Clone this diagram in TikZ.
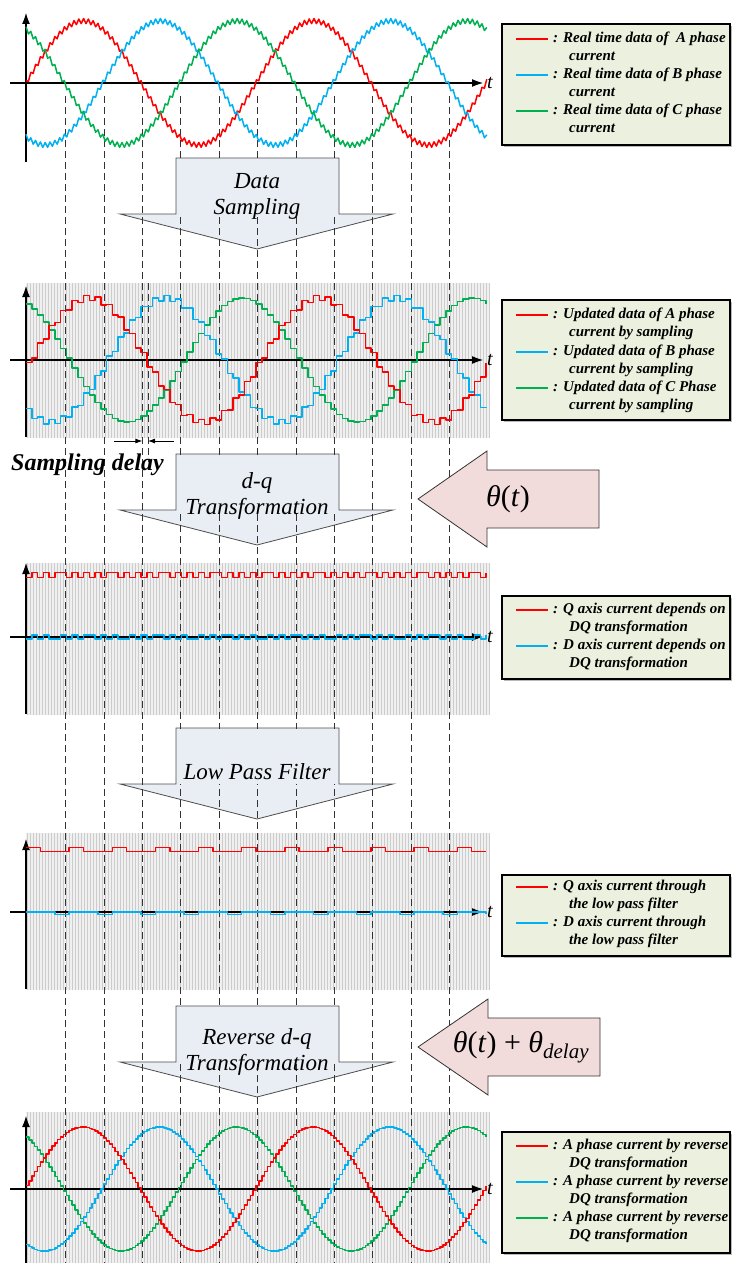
\documentclass[tikz,border=0pt]{standalone}
\usepackage{fontspec}
\setmainfont{Liberation Serif}
\usetikzlibrary{arrows.meta}
\definecolor{phA}{RGB}{255,0,0}
\definecolor{phB}{RGB}{0,176,240}
\definecolor{phC}{RGB}{0,176,80}
\definecolor{legbg}{RGB}{235,241,222}
\definecolor{blkbg}{RGB}{233,237,244}
\definecolor{pinkbg}{RGB}{242,220,219}
\tikzset{
  wave/.style={line width=1.5pt, line join=round},
  axis/.style={line width=2.2pt, -{Latex[length=12pt,width=8pt]}},
  guide/.style={gray!40!black, line width=0.9pt, dash pattern=on 7pt off 4pt},
  dotgrid/.style={gray!40, line width=0.4pt},
  legbox/.style={draw=black, line width=1.2pt, fill=legbg},
  legtext/.style={anchor=west, inner sep=0pt, font=\bfseries\itshape\fontsize{15}{18}\selectfont},
  blockarrow/.style={draw=gray!60!black, line width=0.8pt, fill=blkbg},
  thetaarrow/.style={draw=gray!40!black, line width=0.8pt, fill=pinkbg},
  steptext/.style={font=\itshape\fontsize{23}{26}\selectfont, align=center, inner sep=0pt},
}
\begin{document}
\begin{tikzpicture}[x=1pt, y=-1pt]
    \useasboundingbox (0,0) rectangle (732,1263);
    % grid backgrounds
    \foreach \ya/\yb in {283/438, 563/715, 833/990, 1112/1263} {
        \fill[gray!12] (26,\ya) rectangle (489,\yb);
        \draw[dotgrid, step=3] (26,\ya) grid (489,\yb);
    }
    % block arrows (down)
    \foreach \top/\wing/\tip in {158/214/249, 454/510/545, 728/784/819, 1006/1062/1097} {
        \draw[blockarrow] (176,\top) -- (339,\top) -- (339,\wing) -- (393,\wing)
            -- (257,\tip) -- (120,\wing) -- (176,\wing) -- cycle;
    }
    % dashed guides
    \foreach \k in {1,...,11} {
        \draw[guide] ({27.2+38.4*\k},96) -- ({27.2+38.4*\k},1263);
    }
    \draw[guide] (148,283) -- (148,462);
    \foreach \top/\wing in {158/214, 454/510, 728/784, 1006/1062} {
        \fill[blkbg] (176.8,{\top+0.8}) rectangle (338.2,\wing);
    }
    \node[steptext] (samp) at (257,196) {Data\\Sampling};
    \node[steptext] (dq) at (257,496) {d-q\\Transformation};
    \node[steptext] (lpf) at (257,772) {Low Pass Filter};
    \node[steptext] (rdq) at (257,1052) {Reverse d-q\\Transformation};
    % theta arrows (left)
    \draw[thetaarrow] (418,499) -- (487,451) -- (487,470) -- (599,470) -- (599,528)
        -- (487,528) -- (487,547) -- cycle;
    \node[font=\fontsize{30}{30}\selectfont] (th) at (508,499) {\textit{θ}(\textit{t})};
    \draw[thetaarrow] (418,1047) -- (488,999) -- (488,1018) -- (600,1018) -- (600,1076)
        -- (488,1076) -- (488,1095) -- cycle;
    \node[font=\fontsize{30}{30}\selectfont] (thd) at (521,1047)
        {\textit{θ}(\textit{t}) + \textit{θ}\textsubscript{\textit{delay}}};
    % axes
    \foreach \ya/\yb/\yc [count=\i] in {12/162/83, 285/437/360, 562/714/637, 838/989/912, 1115/1263/1189} {
        \draw[axis] (26,\yb) -- (26,\ya);
        \draw[axis] (10,\yc) -- (484,\yc);
        \node[font=\itshape\fontsize{20}{20}\selectfont, anchor=west, inner sep=1pt] (t\i) at (486,\yc) {t};
    }
    % real time currents
    \foreach \col/\ph in {phA/0, phB/-120, phC/120} {
        \draw[wave, \col] plot[domain=0:192, samples=193]
            ({26+2.4*\x}, {83-62*sin(1.5652*2.4*\x+\ph)-2.5*cos(180*mod(\x,2))});
    }
    % sampled currents
    \foreach \col/\ph/\rp in {phC/120/0, phB/-120/2.5, phA/0/2.5} {
        \draw[wave, \col, const plot] plot[domain=0:80, samples=81]
            ({26+5.75*\x}, {360-62*sin(1.5652*(5.75*\x-3)+\ph)-\rp*cos(180*mod(\x,2))});
    }
    % d-q currents
    \draw[wave, phA, const plot] plot[domain=0:80, samples=81] ({26+5.75*\x}, {575+2.5*sign(cos(160*\x+20))});
    \draw[wave, phB, const plot] plot[domain=0:80, samples=81] ({26+5.75*\x}, {637+2*sign(cos(150*\x+40))});
    % filtered currents
    \draw[wave, phA, const plot] plot[domain=0:32, samples=33] ({26+14.375*\x}, {850-2.5*cos(120*\x)});
    \draw[wave, phB, const plot] plot[domain=0:32, samples=33] ({26+14.375*\x}, {912+0.8*(1+2*cos(120*\x+120))});
    % reverse d-q currents
    \foreach \col/\ph in {phC/120, phB/-120, phA/0} {
        \draw[wave, \col, const plot] plot[domain=0:160, samples=161]
            ({26+2.875*\x}, {1189-62*sin(1.5652*(2.875*\x+2)+\ph)});
    }
    % sampling delay
    \coordinate (dl) at (114,441);
    \coordinate (dla) at (142.4,441);
    \coordinate (dr) at (174,441);
    \coordinate (dra) at (148,441);
    \draw[-{Latex[length=7pt,width=5pt]}, line width=0.8pt] (dl) -- (dla);
    \draw[-{Latex[length=7pt,width=5pt]}, line width=0.8pt] (dr) -- (dra);
    \node[font=\bfseries\itshape\fontsize{24}{24}\selectfont, anchor=west, inner sep=0pt] (sd) at (11,465) {Sampling delay};
    % legends
    \foreach \ya/\yb in {24/145, 300/420, 596/679, 875/956, 1132/1253} {
        \fill[gray!55] (504,{\ya+2}) rectangle (732,{\yb+2});
        \draw[legbox] (502,\ya) rectangle (730,\yb);
    }
    \foreach \y/\col/\first/\second [count=\i] in {39/phA/{Real time data of\ \ A phase}/current,
            75/phB/{Real time data of B phase}/current, 111/phC/{Real time data of C phase}/current} {
        \draw[wave, \col] (516,\y) -- (548,\y);
        \node[legtext] (ra\i) at (553,\y) {: \first};
        \node[legtext] (rb\i) at (569,{\y+17}) {\second};
    }
    \foreach \y/\col/\first [count=\i] in {315/phA/{Updated data of A phase},
            352/phB/{Updated data of B phase}, 388/phC/{Updated data of C Phase}} {
        \draw[wave, \col] (516,\y) -- (548,\y);
        \node[legtext] (ua\i) at (553,\y) {: \first};
        \node[legtext] (ub\i) at (569,{\y+18}) {current by sampling};
    }
    \foreach \y/\col/\first [count=\i] in {610/phA/Q, 646/phB/D} {
        \draw[wave, \col] (516,\y) -- (548,\y);
        \node[legtext] (qa\i) at (553,\y) {: \first\ axis current depends on};
        \node[legtext] (qb\i) at (569,{\y+18}) {DQ transformation};
    }
    \foreach \y/\col/\first [count=\i] in {887/phA/Q, 923/phB/D} {
        \draw[wave, \col] (516,\y) -- (548,\y);
        \node[legtext] (fa\i) at (553,\y) {: \first\ axis current through};
        \node[legtext] (fb\i) at (569,{\y+18}) {the low pass filter};
    }
    \foreach \y/\col [count=\i] in {1146/phA, 1182/phB, 1218/phC} {
        \draw[wave, \col] (516,\y) -- (548,\y);
        \node[legtext] (va\i) at (553,\y) {: A phase current by reverse};
        \node[legtext] (vb\i) at (569,{\y+18}) {DQ transformation};
    }
\end{tikzpicture}
\end{document}
